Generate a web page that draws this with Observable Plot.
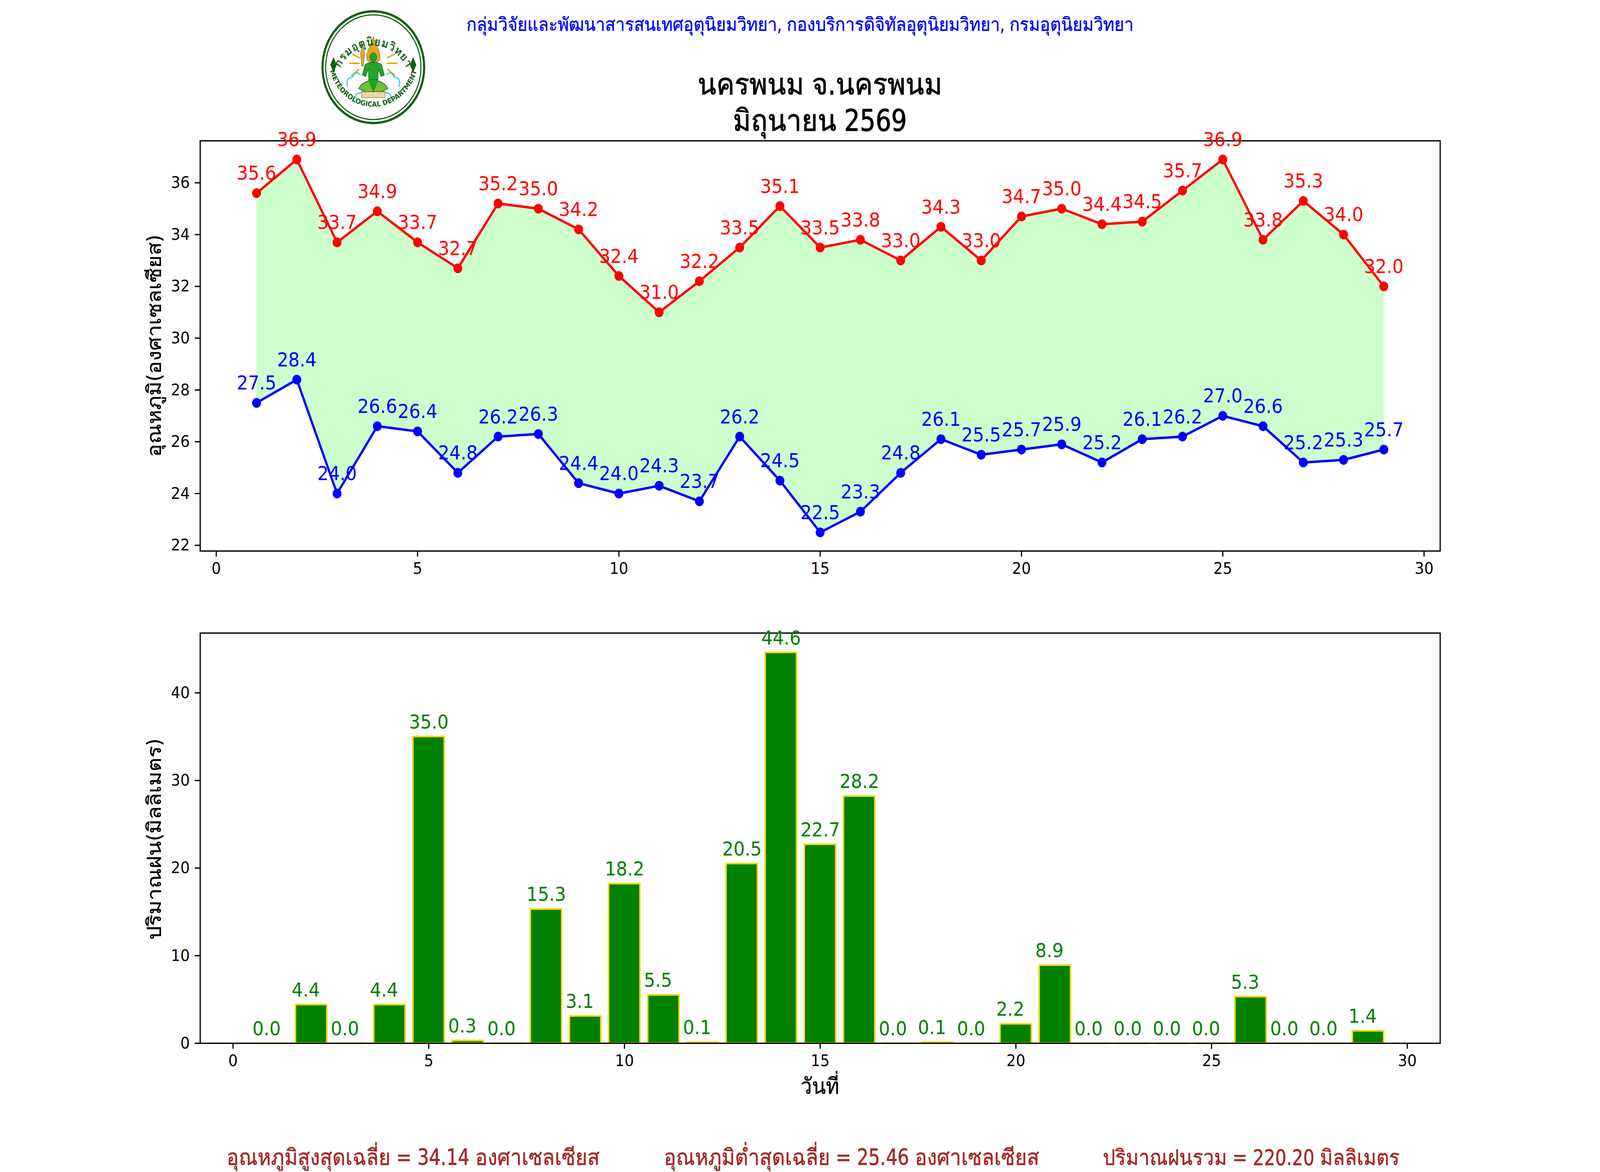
<!DOCTYPE html>
<html lang="th">
<head>
<meta charset="utf-8">
<script src="https://cdn.jsdelivr.net/npm/d3@7"></script>
<script src="https://cdn.jsdelivr.net/npm/@observablehq/plot@0.6"></script>
<style>
  html, body { margin: 0; padding: 0; background: #fff; overflow: hidden; }
  #fig { position: relative; width: 4500px; height: 3000px; font-family: "DejaVu Sans", sans-serif; transform-origin: 0 0; }
  #fig svg { position: absolute; left: 0; top: 0; max-width: none; overflow: visible; }
</style>
</head>
<body>
<div id="fig"></div>
<script>
const days = [1,2,3,4,5,6,7,8,9,10,11,12,13,14,15,16,17,18,19,20,21,22,23,24,25,26,27,28,29];
const tmax = [35.6,36.9,33.7,34.9,33.7,32.7,35.2,35.0,34.2,32.4,31.0,32.2,33.5,35.1,33.5,33.8,33.0,34.3,33.0,34.7,35.0,34.4,34.5,35.7,36.9,33.8,35.3,34.0,32.0];
const tmin = [27.5,28.4,24.0,26.6,26.4,24.8,26.2,26.3,24.4,24.0,24.3,23.7,26.2,24.5,22.5,23.3,24.8,26.1,25.5,25.7,25.9,25.2,26.1,26.2,27.0,26.6,25.2,25.3,25.7];
const rain = [0.0,4.4,0.0,4.4,35.0,0.3,0.0,15.3,3.1,18.2,5.5,0.1,20.5,44.6,22.7,28.2,0.0,0.1,0.0,2.2,8.9,0.0,0.0,0.0,0.0,5.3,0.0,0.0,1.4];
const xTicks = [0,5,10,15,20,25,30];
const tempTicks = [22,24,26,28,30,32,34,36];
const rainTicks = [0,10,20,30,40];
const rows = days.map((d,i)=>({day:d,tmax:tmax[i],tmin:tmin[i],rain:rain[i]}));

const FONT = '"DejaVu Sans", sans-serif';
const THAI = '"DejaVu Sans Condensed", Loma, "DejaVu Sans", sans-serif';
const common = {width:4500, height:1500, marginLeft:562.5, marginRight:450, style:{fontFamily:FONT, background:"transparent", overflow:"visible"}};
const axisStyle = {fontSize:41.67, strokeWidth:3.33, tickSize:14.6, tickPadding:14.6};

const tempPlot = Plot.plot({
  ...common, marginTop:360, marginBottom:90,
  x:{domain:[-0.4,30.4]},
  y:{domain:[21.78,37.62]},
  marks:[
    Plot.areaY(rows,{x:"day",y1:"tmin",y2:"tmax",fill:"#ccffcc"}),
    Plot.lineY(rows,{x:"day",y:"tmax",stroke:"red",strokeWidth:6.25}),
    Plot.lineY(rows,{x:"day",y:"tmin",stroke:"blue",strokeWidth:6.25}),
    Plot.dot(rows,{x:"day",y:"tmax",fill:"red",r:12.5}),
    Plot.dot(rows,{x:"day",y:"tmin",fill:"blue",r:12.5}),
    Plot.frame({stroke:"black",strokeWidth:3.33}),
    Plot.axisX({...axisStyle,ticks:xTicks,tickFormat:d=>String(d),label:null}),
    Plot.axisY({...axisStyle,ticks:tempTicks,tickFormat:d=>String(d),label:null}),
    Plot.text(rows,{x:"day",y:"tmax",text:d=>d.tmax.toFixed(1),fill:"red",fontSize:50,lineAnchor:"bottom",dy:-34}),
    Plot.text(rows,{x:"day",y:"tmin",text:d=>d.tmin.toFixed(1),fill:"blue",fontSize:50,lineAnchor:"bottom",dy:-34})
  ]
});

const zeros = rows.filter(d=>d.rain===0);
const rainPlot = Plot.plot({
  ...common, marginTop:120, marginBottom:330,
  x:{domain:[-0.84,30.84]},
  y:{domain:[0,46.83]},
  marks:[
    Plot.rect(rows.filter(d=>d.rain>0),{x1:d=>d.day-0.4,x2:d=>d.day+0.4,y1:0,y2:"rain",fill:"green",stroke:"gold",strokeWidth:4.17}),
    Plot.ruleY(zeros,{x1:d=>d.day-0.4,x2:d=>d.day+0.4,y:0,stroke:"gold",strokeWidth:4.17}),
    Plot.frame({stroke:"black",strokeWidth:3.33}),
    Plot.axisX({...axisStyle,ticks:xTicks,tickFormat:d=>String(d),label:null}),
    Plot.axisY({...axisStyle,ticks:rainTicks,tickFormat:d=>String(d),label:null}),
    Plot.text(rows,{x:"day",y:"rain",text:d=>d.rain.toFixed(1),fill:"green",fontSize:50,lineAnchor:"bottom",textAnchor:"start",dx:-55.5,dy:-21})
  ]
});
rainPlot.style.top = "1500px";

const fig = document.getElementById("fig");
fig.append(tempPlot,rainPlot);
// The figure is laid out on a 4500 wide canvas and fitted to the window's real width.
fig.style.transform = `scaleX(${window.innerWidth/4500})`;

const texts = [
  {s:"กลุ่มวิจัยและพัฒนาสารสนเทศอุตุนิยมวิทยา, กองบริการดิจิทัลอุตุนิยมวิทยา, กรมอุตุนิยมวิทยา",x:2250,y:79,size:47.5,color:"blue",heavy:0.6},
  {s:"นครพนม จ.นครพนม",x:2306,y:242,size:77,color:"black",heavy:1.2},
  {s:"มิถุนายน 2569",x:2306,y:335,size:77,color:"black",heavy:1.2},
  {s:"อุณหภูมิสูงสุดเฉลี่ย = 34.14 องศาเซลเซียส",x:1162,y:2982,size:57,color:"brown",heavy:0.8},
  {s:"อุณหภูมิต่ำสุดเฉลี่ย = 25.46 องศาเซลเซียส",x:2395,y:2982,size:57,color:"brown",heavy:0.8},
  {s:"ปริมาณฝนรวม = 220.20 มิลลิเมตร",x:3519,y:2982,size:55,color:"brown",heavy:0.8},
  {s:"วันที่",x:2306,y:2800,size:57,color:"black",heavy:0.6},
  {s:"อุณหภูมิ(องศาเซลเซียส)",x:453,y:885,size:55,color:"black",rotate:true,heavy:0.6},
  {s:"ปริมาณฝน(มิลลิเมตร)",x:453,y:2148,size:55,color:"black",rotate:true,heavy:0.6}
];
const overlay = d3.select(fig).append("svg").attr("width",4500).attr("height",3000);
overlay.selectAll("text").data(texts).join("text")
  .attr("transform",d=>`translate(${d.x},${d.y})${d.rotate?" rotate(-90)":""}`)
  .attr("text-anchor","middle")
  .attr("font-family",THAI)
  .attr("font-size",d=>d.size)
  .attr("fill",d=>d.color)
  .attr("stroke",d=>d.color)
  .attr("stroke-width",d=>d.heavy)
  .text(d=>d.s);

// Department emblem (decorative)
const logo = document.createElement("div");
logo.innerHTML = `<svg xmlns="http://www.w3.org/2000/svg" width="300" height="300" viewBox="-150 -150 300 300" style="left:900px;top:22px">
 <circle r="143" fill="#fff" stroke="#0f5f14" stroke-width="6"/>
 <circle r="134" fill="none" stroke="#0f5f14" stroke-width="3"/>
 <defs>
  <path id="lt" d="M -102 25 A 105 105 0 0 1 102 25"/>
  <path id="lb" d="M -126 -10 A 127 127 0 0 0 126 -10"/>
 </defs>
 <g stroke="#e5a823" stroke-width="4" fill="none">
  <path d="M-60 -34 L-38 -24 M60 -34 L38 -24 M-68 -10 L-38 -10 M68 -10 L38 -10 M-62 22 L-40 5 M62 22 L40 5"/>
 </g>
 <g stroke="#35c9d8" stroke-width="3" fill="none">
  <path d="M-72 50 q-8 -22 14 -25 q8 -18 22 -5 M72 50 q8 -22 -14 -25 q-8 -18 -22 -5 M-48 80 q-5 -14 12 -14 q12 -12 22 6 M48 80 q5 -14 -12 -14 q-12 -12 -22 6"/>
 </g>
 <g transform="translate(0,4) scale(.82)">
 <path d="M0 -100 C 8 -70 26 -55 22 -30 C 18 -15 -18 -15 -22 -30 C -26 -55 -8 -70 0 -100 Z" fill="#e5a823" stroke="#8a6a10" stroke-width="1.5"/>
 <ellipse cx="0" cy="-36" rx="12" ry="15" fill="#22a52a" stroke="#0f5f14"/>
 <path d="M-28 -14 C -12 -22 12 -22 28 -14 L 38 20 L 26 24 L 17 0 L 16 34 L -16 34 L -17 0 L -26 24 L -38 20 Z" fill="#22a52a" stroke="#0f5f14" stroke-width="1.5"/>
 <path d="M-44 -50 L-36 -78 L-30 -50 L-34 -8 L-40 -8 Z" fill="#e5a823" stroke="#0f5f14"/>
 <path d="M-50 62 C -35 28 35 28 50 62 L 26 72 L -26 72 Z" fill="#6fbf3a" stroke="#0f5f14" stroke-width="2"/>
 <path d="M-16 34 L16 34 L0 72 Z" fill="#22a52a" stroke="#0f5f14"/>
 <path d="M-40 72 H40 V90 H-40 Z" fill="#ecd7a3" stroke="#8a6a10" stroke-width="1.5"/>
 </g>
 <path d="M-112 -26 L-103 -6 L-112 14 L-121 -6 Z" fill="#0f5f14"/>
 <path d="M112 -26 L103 -6 L112 14 L121 -6 Z" fill="#0f5f14"/>
 <text font-family="Loma, DejaVu Sans" font-size="30" font-weight="bold" letter-spacing="1" fill="#0f5f14" text-anchor="middle"><textPath href="#lt" startOffset="50%">กรมอุตุนิยมวิทยา</textPath></text>
 <text font-family="DejaVu Sans" font-size="18" font-weight="bold" fill="#0f5f14" text-anchor="middle"><textPath href="#lb" startOffset="50%">METEOROLOGICAL DEPARTMENT</textPath></text>
</svg>`;
fig.append(logo);
</script>
</body>
</html>
